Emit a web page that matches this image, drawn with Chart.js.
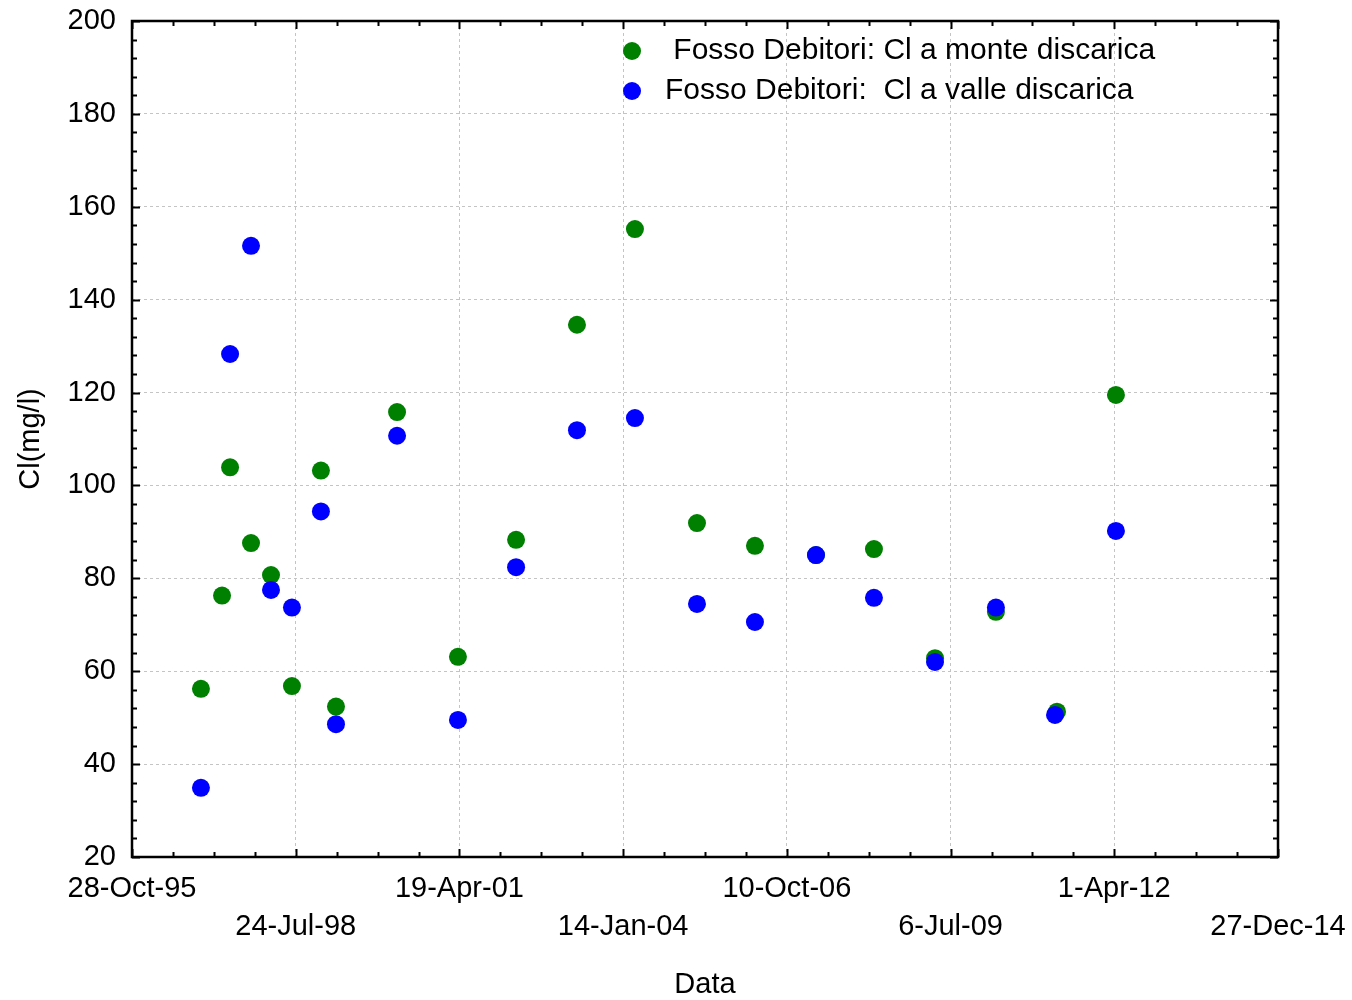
<!DOCTYPE html>
<html><head><meta charset="utf-8">
<script src="https://cdn.jsdelivr.net/npm/chart.js@4.4.1/dist/chart.umd.min.js"></script>
<style>html,body{margin:0;padding:0;background:#fff;}</style>
</head><body>
<canvas id="c" width="1352" height="1000"></canvas>
<script>
const seriesLabels = [' Fosso Debitori: Cl a monte discarica', 'Fosso Debitori:  Cl a valle discarica'];
const seriesColors = ['#008000', '#0000ff'];

const monteDates = ['1996-12-22','1997-04-30','1997-06-18','1997-10-24','1998-02-23','1998-07-01','1998-12-25','1999-03-27','2000-04-03','2001-04-10','2002-03-31','2003-04-07','2004-03-26','2005-04-09','2006-03-29','2007-04-06','2008-03-25','2009-04-02','2010-04-09','2011-04-17','2012-04-11'];
const monteValues = [56.2,76.3,103.9,87.6,80.7,56.8,103.2,52.4,115.8,63.1,88.3,134.6,155.2,91.9,87.0,85.0,86.3,62.8,72.8,51.3,119.5];

const valleDates = ['1996-12-22','1997-06-18','1997-10-24','1998-02-23','1998-07-01','1998-12-25','1999-03-27','2000-04-03','2001-04-10','2002-03-31','2003-04-07','2004-03-26','2005-04-09','2006-03-29','2007-04-06','2008-03-25','2009-04-02','2010-04-09','2011-04-05','2012-04-11'];
const valleValues = [34.9,128.3,151.6,77.5,73.7,94.4,48.6,110.7,49.5,82.4,111.9,114.5,74.5,70.6,85.0,75.8,62.0,73.7,50.6,90.2];

const tickDates = ['1995-10-28','1998-07-24','2001-04-19','2004-01-14','2006-10-10','2009-07-06','2012-04-01','2014-12-27'];
const tickLabels = ['28-Oct-95','24-Jul-98','19-Apr-01','14-Jan-04','10-Oct-06','6-Jul-09','1-Apr-12','27-Dec-14'];
const yTicks = [20,40,60,80,100,120,140,160,180,200];
const xTitle = 'Data';
const yTitle = 'Cl(mg/l)';

const FONT = '"Liberation Sans", Arial, sans-serif';
const dayNum = s => Math.round(Date.parse(s + 'T00:00:00Z') / 86400000);
const tickDays = tickDates.map(dayNum);
const toPts = (d, v) => d.map((s, i) => ({x: dayNum(s), y: v[i]}));

const framePlugin = {
  id: 'frame',
  afterDraw(chart) {
    const {ctx, chartArea: a, scales: {x, y}} = chart;
    ctx.save();
    ctx.strokeStyle = '#000';
    ctx.lineWidth = 2;
    const xMinorStep = (tickDays[1] - tickDays[0]) / 4;
    for (let v = tickDays[0]; v <= tickDays[tickDays.length - 1] + 0.5; v += xMinorStep) {
      const px = Math.round(x.getPixelForValue(v)) + 0.5;
      const major = tickDays.some(t => Math.abs(t - v) < 1);
      const len = major ? 8 : 5;
      ctx.beginPath();
      ctx.moveTo(px, a.bottom); ctx.lineTo(px, a.bottom - len);
      ctx.moveTo(px, a.top); ctx.lineTo(px, a.top + len);
      ctx.stroke();
    }
    const yMinorStep = (yTicks[1] - yTicks[0]) / 5;
    for (let v = yTicks[0]; v <= yTicks[yTicks.length - 1] + 0.01; v += yMinorStep) {
      const py = Math.round(y.getPixelForValue(v)) + 0.5;
      const major = yTicks.some(t => Math.abs(t - v) < 0.01);
      const len = major ? 8 : 5;
      ctx.beginPath();
      ctx.moveTo(a.left, py); ctx.lineTo(a.left + len, py);
      ctx.moveTo(a.right, py); ctx.lineTo(a.right - len, py);
      ctx.stroke();
    }
    ctx.lineWidth = 2.5;
    ctx.strokeRect(a.left, a.top, a.right - a.left, a.bottom - a.top);
    // legend
    ctx.font = '30px ' + FONT;
    ctx.textBaseline = 'middle';
    ctx.textAlign = 'left';
    chart.data.datasets.slice().sort((p, q) => p.legendIndex - q.legendIndex).forEach((ds, i) => {
      const cy = 51 + 40 * i;
      ctx.fillStyle = ds.backgroundColor;
      ctx.beginPath(); ctx.arc(632, cy, 9, 0, Math.PI * 2); ctx.fill();
      ctx.fillStyle = '#000';
      ctx.fillText(ds.label, 665, cy);
    });
    ctx.restore();
  }
};

const zeroPad = s => { s.paddingTop = 0; s.paddingBottom = 0; s.paddingLeft = 0; s.paddingRight = 0; };

new Chart(document.getElementById('c'), {
  type: 'scatter',
  data: {
    datasets: [
      {label: seriesLabels[0], legendIndex: 0, data: toPts(monteDates, monteValues), backgroundColor: seriesColors[0], borderWidth: 0, pointRadius: 9, pointHoverRadius: 9, order: 2},
      {label: seriesLabels[1], legendIndex: 1, data: toPts(valleDates, valleValues), backgroundColor: seriesColors[1], borderWidth: 0, pointRadius: 9, pointHoverRadius: 9, order: 1}
    ]
  },
  options: {
    responsive: false,
    animation: false,
    devicePixelRatio: 1,
    layout: {padding: {top: 21, right: 74, left: 0, bottom: 0}},
    plugins: {legend: {display: false}, tooltip: {enabled: false}},
    scales: {
      x: {
        type: 'linear',
        min: tickDays[0],
        max: tickDays[tickDays.length - 1],
        afterBuildTicks: s => { s.ticks = tickDays.map(v => ({value: v})); },
        afterFit: s => { s.height = 143; zeroPad(s); },
        grid: {drawTicks: false, lineWidth: 1, color: c => (c.index === 0 || c.index === tickDays.length - 1) ? 'rgba(0,0,0,0)' : '#c4c4c4'},
        border: {display: false, dash: [3, 3]},
        ticks: {
          autoSkip: false, maxRotation: 0, minRotation: 0, padding: 13, color: '#000',
          font: {family: FONT, size: 29, lineHeight: 38 / 29},
          callback: (v, i) => (i % 2 === 0 ? [tickLabels[i], ''] : ['', tickLabels[i]])
        },
        title: {display: true, text: xTitle, color: '#000', font: {family: FONT, size: 29, lineHeight: 1}, padding: {top: 0, bottom: 1}}
      },
      y: {
        min: yTicks[0], max: yTicks[yTicks.length - 1],
        afterBuildTicks: s => { s.ticks = yTicks.map(v => ({value: v})); },
        afterFit: s => { s.width = 132; zeroPad(s); },
        grid: {drawTicks: false, lineWidth: 1, color: c => (c.index === 0 || c.index === yTicks.length - 1) ? 'rgba(0,0,0,0)' : '#c4c4c4'},
        border: {display: false, dash: [3, 3]},
        ticks: {padding: 16, color: '#000', font: {family: FONT, size: 29}},
        title: {display: true, text: yTitle, color: '#000', font: {family: FONT, size: 29, lineHeight: 1}, padding: {top: 16, bottom: 0}}
      }
    }
  },
  plugins: [framePlugin]
});
</script>
</body></html>
